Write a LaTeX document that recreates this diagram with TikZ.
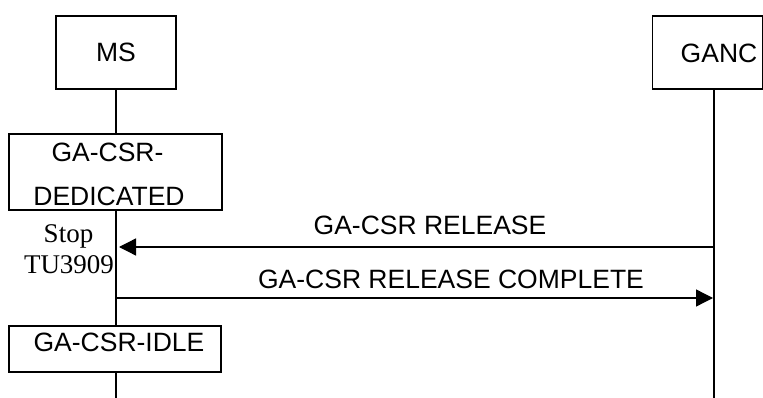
\documentclass[tikz,border=0pt]{standalone}
\usepackage{fontspec}
\setmainfont{Liberation Sans}
\newfontfamily\timesfont{Liberation Serif}
\usetikzlibrary{arrows.meta}

\begin{document}
\begin{tikzpicture}[x=1pt,y=-1pt,line width=1.3pt,
    box/.style={draw,rectangle,inner sep=0pt},
    lbl/.style={anchor=base,inner sep=0pt,font=\fontsize{26.5}{30}\selectfont},
    timer/.style={anchor=base,inner sep=0pt,font=\timesfont\fontsize{27}{30}\selectfont},
    msg/.style={-{Triangle[length=17pt,width=17pt]}}]
    \useasboundingbox (0,0) rectangle (763,398);

    % Define lifeline positions.
    \def\msx{116}      %MS lifeline.
    \def\gancx{714}    %GANC lifeline.
    \def\bottom{398}   %End of both lifelines.

    % Entity and state boxes.
    \node[box,minimum width=120pt,minimum height=73pt] (ms) at (\msx,52.5) {};
    \node[box,minimum width=110pt,minimum height=73pt] (ganc) at (707.5,52.5) {};
    \node[box,minimum width=213pt,minimum height=76pt] (ded) at (115.5,172) {};
    \node[box,minimum width=212pt,minimum height=46pt] (idle) at (115,349) {};

    % Box texts.
    \node[lbl] (mstext) at (\msx,62) {MS};
    \node[lbl] (ganctext) at (719,63) {GANC};
    \node[lbl] (dedone) at (107.5,162) {GA-CSR-};
    \node[lbl] (dedtwo) at (109,206) {DEDICATED};
    \node[lbl] (idletext) at (119,351) {GA-CSR-IDLE};

    % Define coordinates.
    \coordinate (gtop) at (\gancx,89);
    \coordinate (gend) at (\gancx,\bottom);
    \coordinate (msend) at (\msx,\bottom);
    \coordinate (relfrom) at (\gancx,247);   %release starts on GANC.
    \coordinate (relto) at (\msx+3,247);
    \coordinate (cmpfrom) at (\msx,298);    %complete starts on MS.
    \coordinate (cmpto) at (\gancx-1,298);

    % Lifelines.
    \draw (ms.south) -- (ded.north -| ms.south);
    \draw (ded.south -| ms.south) -- (idle.north -| ms.south);
    \draw (idle.south -| ms.south) -- (msend);
    \draw (gtop) -- (gend);

    % Messages.
    \draw[msg] (relfrom) -- (relto);
    \node[lbl] (reltext) at (430,235) {GA-CSR RELEASE};
    \draw[msg] (cmpfrom) -- (cmpto);
    \node[lbl] (cmptext) at (451,288) {GA-CSR RELEASE COMPLETE};

    % Timer.
    \node[timer] (stop) at (68.5,243) {Stop};
    \node[timer] (tu) at (69,273) {TU3909};
\end{tikzpicture}
\end{document}
